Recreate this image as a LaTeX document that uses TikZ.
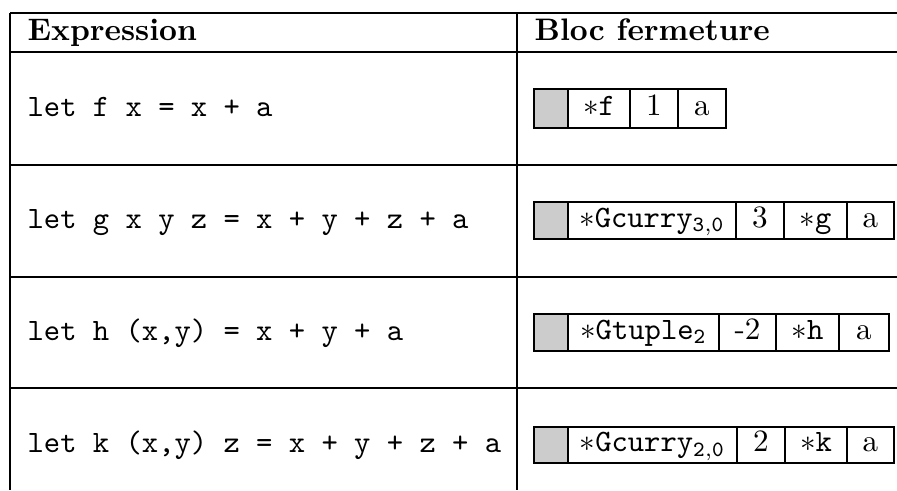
\documentclass[tikz,border=0pt]{standalone}
\definecolor{shadegray}{gray}{0.8}
\tikzset{
  rule/.style={line width=0.45pt},
  cellbox/.style={draw=black, line width=0.45pt},
  shadebox/.style={draw=black, fill=shadegray, line width=0.45pt},
  celltext/.style={anchor=base, inner sep=0pt, font=\normalsize},
  exprtext/.style={anchor=base west, inner sep=0pt, font=\ttfamily},
  headtext/.style={anchor=base west, inner sep=0pt, font=\bfseries},
}
\begin{document}
\begin{tikzpicture}[x=0.3215pt,y=-0.3215pt]
\useasboundingbox (0,0) rectangle (897,490);
% table rules
\coordinate (tl) at (10,13);
\coordinate (bl) at (10,490);
\coordinate (tm) at (517,13);
\coordinate (bm) at (517,490);
\draw[rule] (tl) -- (bl);
\draw[rule] (tm) -- (bm);
\foreach \yy/\nm in {13/h0,52/h1,165/h2,277/h3,388/h4}{
  \coordinate (\nm l) at (10,\yy);
  \coordinate (\nm r) at (897,\yy);
  \draw[rule] (\nm l) -- (\nm r);
}
% header
\node[headtext] (hexpr) at (27,40) {Expression};
\node[headtext] (hbloc) at (534,40) {Bloc fermeture};
% expressions
\node[exprtext] (e1) at (27,116) {let f x = x + a};
\node[exprtext] (e2) at (27,228.5) {let g x y z = x + y + z + a};
\node[exprtext] (e3) at (27,340) {let h (x,y) = x + y + a};
\node[exprtext] (e4) at (27,452) {let k (x,y) z = x + y + z + a};
% row 1 closure block
\draw[shadebox] (534,89) rectangle (568,128);
\draw[cellbox] (568,89) rectangle (630,128);
\draw[cellbox] (630,89) rectangle (678,128);
\draw[cellbox] (678,89) rectangle (726,128);
\node[celltext] (f1) at (599,115) {$\ast$\texttt{f}};
\node[celltext] (f2) at (654,115) {1};
\node[celltext] (f3) at (702,115) {a};
% row 2
\draw[shadebox] (534,202) rectangle (568,239);
\draw[cellbox] (568,202) rectangle (736,239);
\draw[cellbox] (736,202) rectangle (784,239);
\draw[cellbox] (784,202) rectangle (847,239);
\draw[cellbox] (847,202) rectangle (894,239);
\node[celltext] (g1) at (652,227) {$\ast$\texttt{Gcurry}$_{\mathtt{3{,}0}}$};
\node[celltext] (g2) at (760,227) {3};
\node[celltext] (g3) at (815.5,227) {$\ast$\texttt{g}};
\node[celltext] (g4) at (870.5,227) {a};
% row 3
\draw[shadebox] (534,314) rectangle (568,351);
\draw[cellbox] (568,314) rectangle (719,351);
\draw[cellbox] (719,314) rectangle (776,351);
\draw[cellbox] (776,314) rectangle (839,351);
\draw[cellbox] (839,314) rectangle (889,351);
\node[celltext] (t1) at (643.5,339) {$\ast$\texttt{Gtuple}$_{\mathtt{2}}$};
\node[celltext] (t2) at (747.5,339) {-2};
\node[celltext] (t3) at (807.5,339) {$\ast$\texttt{h}};
\node[celltext] (t4) at (864,339) {a};
% row 4
\draw[shadebox] (534,427) rectangle (568,463);
\draw[cellbox] (568,427) rectangle (737,463);
\draw[cellbox] (737,427) rectangle (785,463);
\draw[cellbox] (785,427) rectangle (847,463);
\draw[cellbox] (847,427) rectangle (894,463);
\node[celltext] (k1) at (652.5,451.5) {$\ast$\texttt{Gcurry}$_{\mathtt{2{,}0}}$};
\node[celltext] (k2) at (761,451.5) {2};
\node[celltext] (k3) at (816,451.5) {$\ast$\texttt{k}};
\node[celltext] (k4) at (870.5,451.5) {a};
\end{tikzpicture}
\end{document}
